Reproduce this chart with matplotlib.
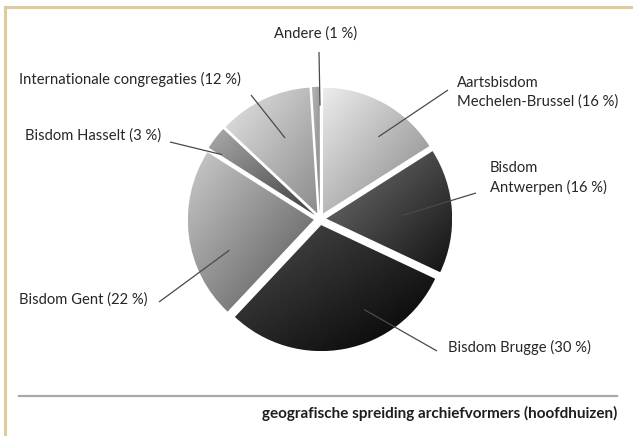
import numpy as np
import matplotlib
matplotlib.use("Agg")
import matplotlib.pyplot as plt
from matplotlib.colors import LinearSegmentedColormap

# ---- data ----
labels = ["Aartsbisdom\nMechelen-Brussel (16 %)", "Bisdom\nAntwerpen (16 %)",
          "Bisdom Brugge (30 %)", "Bisdom Gent (22 %)", "Bisdom Hasselt (3 %)",
          "Internationale congregaties (12 %)", "Andere (1 %)"]
values = [16, 16, 30, 22, 3, 12, 1]
caption = "geografische spreiding archiefvormers (hoofdhuizen)"

# ---- styles ----
light = ["#ececec", "#747474", "#4c4c4c", "#cbcbcb", "#ababab", "#e4e4e4", "#b4b4b4"]
dark = ["#858585", "#121212", "#000000", "#545454", "#3e3e3e", "#8c8c8c", "#8a8a8a"]

W, H = 633, 436
fig = plt.figure(figsize=(W / 100, H / 100), dpi=100)
ax = fig.add_axes([0, 0, 1, 1])
ax.set_axis_off()

def py(y):  # pixel-from-top -> data y
    return H - y

cx, cy, R = 320, py(219), 126
explode = [6.2] * len(values)  # pie's explode is in data units here
wedges, _ = ax.pie(values, startangle=90, counterclock=False, radius=R,
                   center=(cx, cy), explode=explode, frame=True,
                   wedgeprops=dict(linewidth=0))

for w, cl, cd in zip(wedges, light, dark):
    w.set_facecolor("none")
    path = w.get_path().transformed(w.get_patch_transform())
    ext = path.get_extents()
    x0, y0, x1, y1 = ext.x0, ext.y0, ext.x1, ext.y1
    xs = np.linspace(0, 1, 200)
    ys = np.linspace(0, 1, 200)
    X, Y = np.meshgrid(xs, ys)
    T = (X + (1 - Y)) / 2.0
    cmap = LinearSegmentedColormap.from_list("g", [cl, cd])
    im = ax.imshow(T, cmap=cmap, extent=(x0, x1, y0, y1), origin="lower",
                   interpolation="bilinear", zorder=1, aspect="auto")
    im.set_clip_path(w)

ax.set_xlim(0, W)
ax.set_ylim(0, H)
ax.set_aspect("equal")

# ---- labels with leader lines ----
fam = ["Lato", "DejaVu Sans"]
fs = 10.6
tcol = "#262626"
# (text x, text y, ha, leader outer px, leader inner as (angle deg, radius frac))
lab_pos = [
    (457, 92.5, "left", (448, 90), (54.6, 0.80)),
    (490, 178, "left", (476, 193), (2.6, 0.66)),
    (448, 347, "left", (437, 351), (-64.0, 0.80)),
    (19, 300, "left", (159, 302), (199.0, 0.76)),
    (25, 136, "left", (170, 142), (146.7, 0.93)),
    (19, 79, "left", (251, 95), (113.3, 0.70)),
    (316, 34, "center", (319, 52), (90.0, 0.90)),
]
for lab, (tx, ty, ha, outer, (ang, rf)) in zip(labels, lab_pos):
    ax.text(tx, py(ty), lab, ha=ha, va="center", fontsize=fs, family=fam,
            color=tcol, linespacing=1.35, zorder=5)
    a = np.deg2rad(ang)
    ix = cx + rf * R * np.cos(a)
    iy = cy + rf * R * np.sin(a)
    ax.plot([outer[0], ix], [py(outer[1]), iy], color="#4a4a4a", lw=0.9,
            zorder=4, solid_capstyle="butt")

# ---- rule and caption ----
ax.plot([19, 617], [py(396), py(396)], color="#a8a8a8", lw=1.6, zorder=3)
ax.text(617, py(413), caption, ha="right", va="center", fontsize=11.0,
        family=fam, fontweight="bold", color="#1e1e1e")

# ---- frame border (left and top) ----
ax.plot([5, 5, W + 5], [-5, py(7), py(7)], color="#decd9c", lw=2.2,
        zorder=6, solid_joinstyle="miter")

fig.savefig("out.png", dpi=100)
